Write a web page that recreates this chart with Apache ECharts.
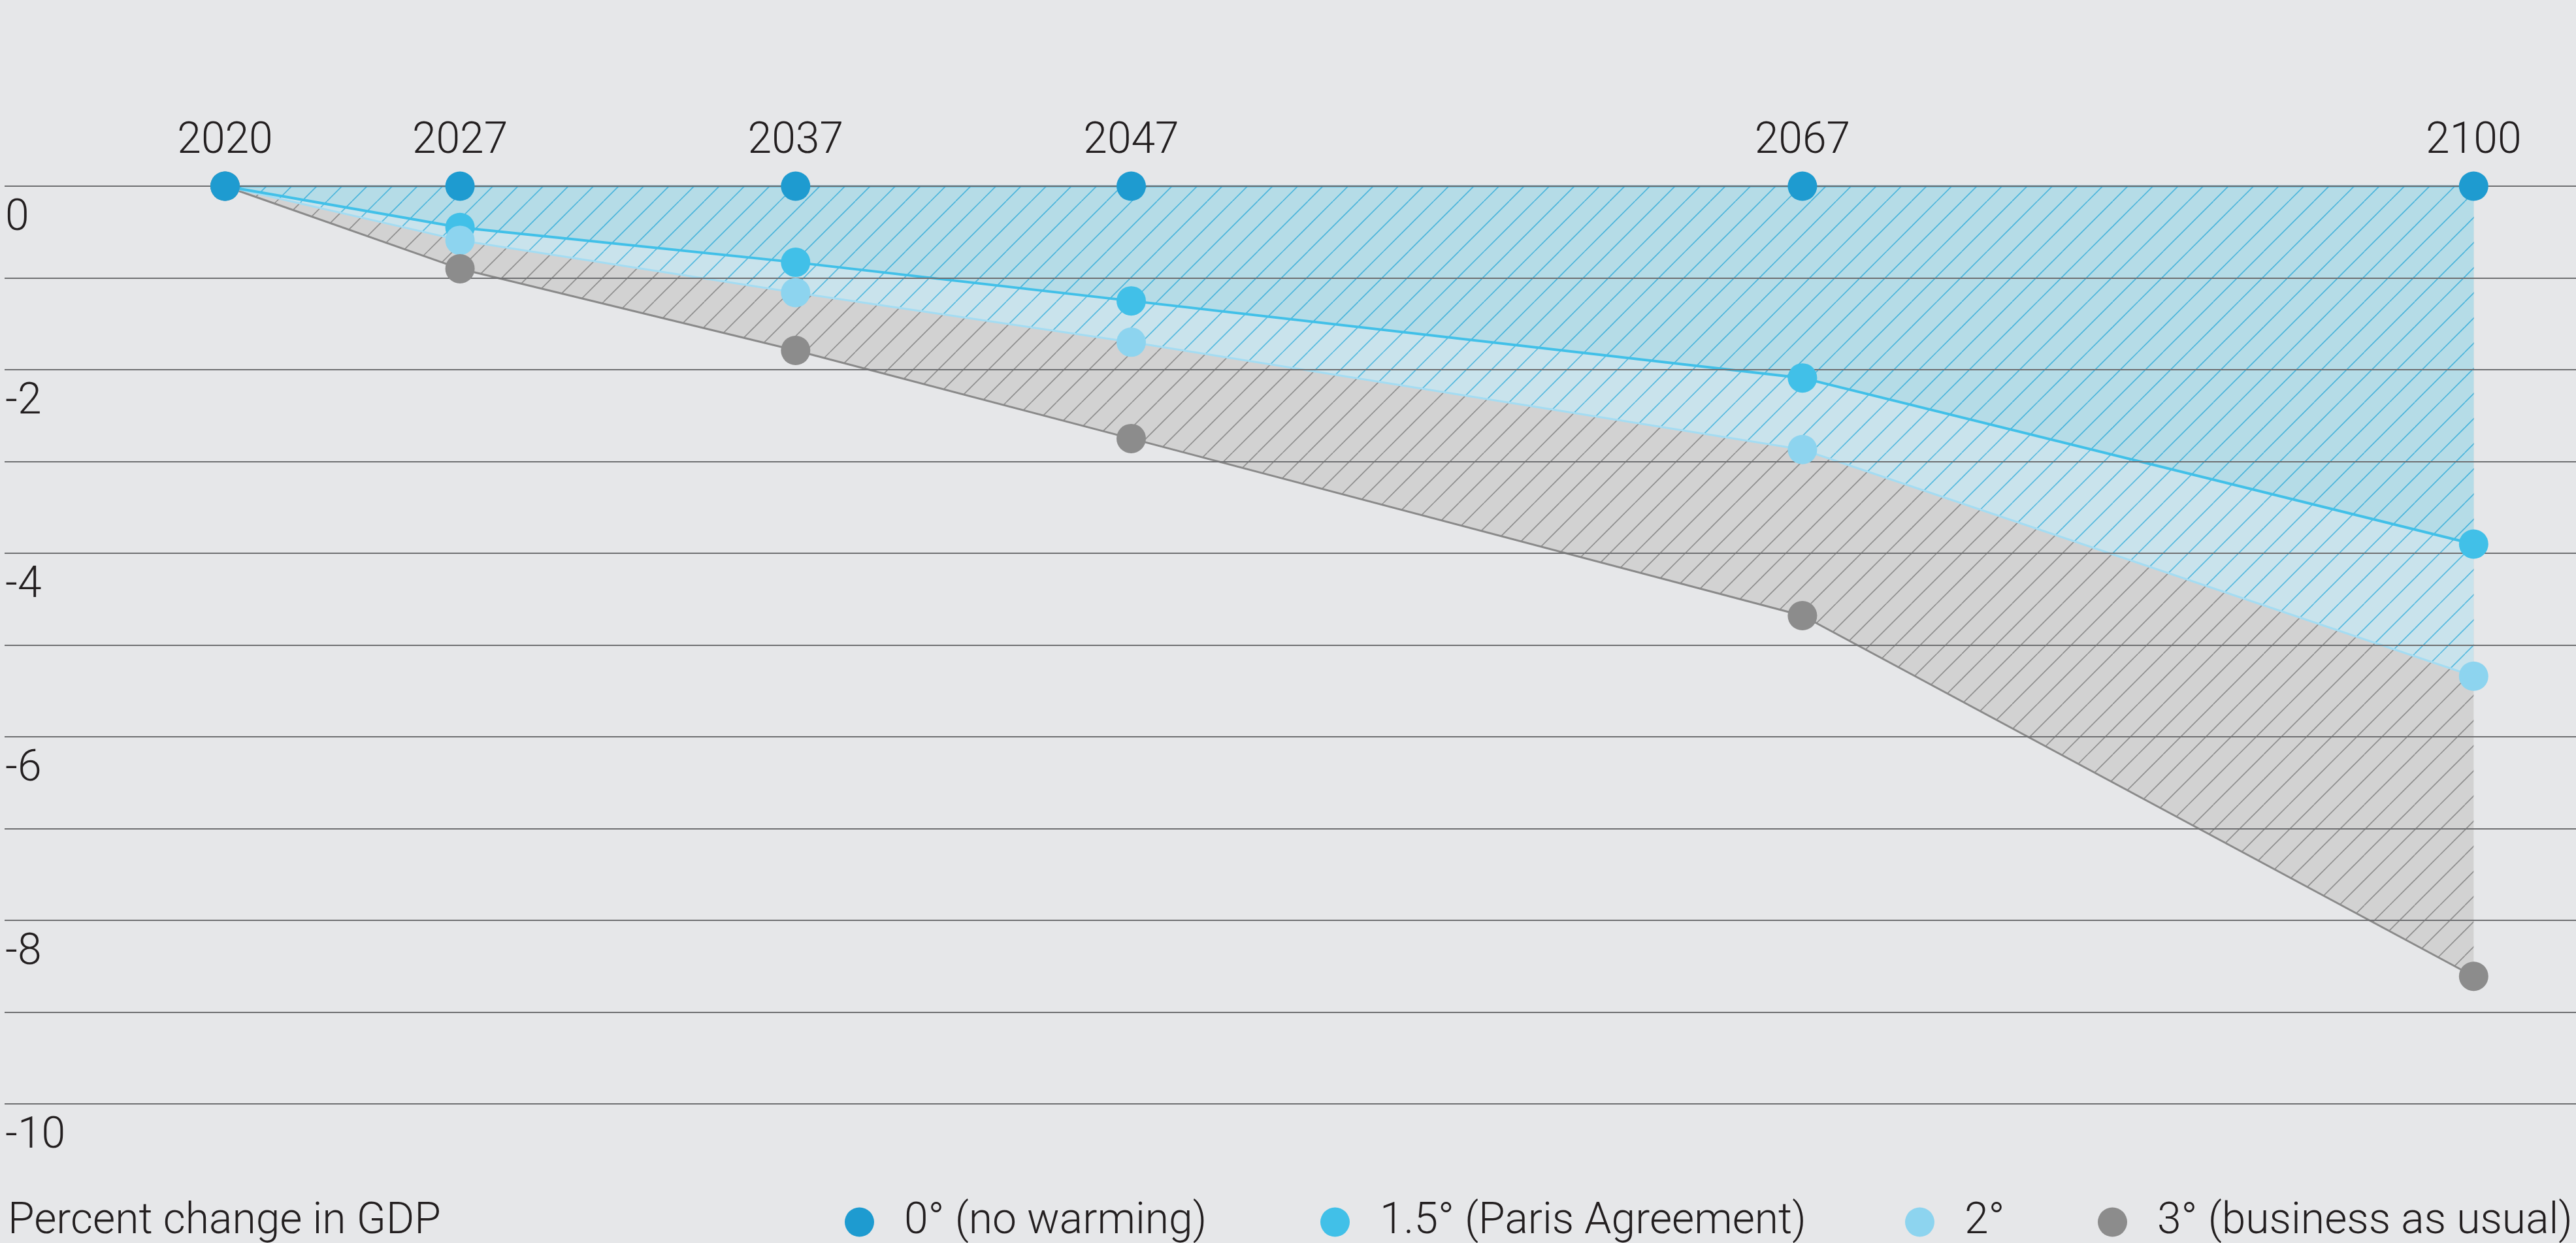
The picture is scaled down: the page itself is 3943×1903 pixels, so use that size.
<!DOCTYPE html>
<html>
<head>
<meta charset="utf-8">
<script src="https://cdn.jsdelivr.net/npm/echarts@6/dist/echarts.min.js"></script>
<style>
  html, body { margin: 0; padding: 0; background: #e6e7e9; }
  #chart { width: 3943px; height: 1903px; }
</style>
</head>
<body>
<div id="chart"></div>
<script>
// ---- data ----
const years = ['2020', '2027', '2037', '2047', '2067', '2100'];
// horizontal slot of each year on the original (non-linear) time axis
const yearSlots = [0, 7, 17, 27, 47, 67];
const seriesNames = ['0° (no warming)', '1.5° (Paris Agreement)', '2°', '3° (business as usual)'];
const noWarming = [0, 0, 0, 0, 0, 0];
const paris15 = [0, -0.45, -0.83, -1.25, -2.09, -3.9];
const warming2 = [0, -0.59, -1.16, -1.7, -2.87, -5.34];
const warming3 = [0, -0.9, -1.79, -2.75, -4.68, -8.61];
const yTickLabels = ['0', '-2', '-4', '-6', '-8', '-10'];
const yAxisTitle = 'Percent change in GDP';

// ---- style ----
const FONT = 'Roboto';
const TXT = '#231f20';
const dotColors = ['#1e9bd0', '#41c0e8', '#8dd4ef', '#8c8c8c'];

function hatch(bg, line) {
  const s = 77;
  const c = document.createElement('canvas');
  c.width = s; c.height = s;
  const g = c.getContext('2d');
  g.fillStyle = bg; g.fillRect(0, 0, s, s);
  g.strokeStyle = line; g.lineWidth = 1.6;
  [0, 38.5, 77, 115.5, 154].forEach(k => {
    g.beginPath(); g.moveTo(k, 0); g.lineTo(k - s, s); g.stroke();
  });
  return { image: c, repeat: 'repeat' };
}

const pair = arr => arr.map((v, i) => [yearSlots[i], v]);

const areaSeries = [
  { name: seriesNames[3], vals: warming3, fill: hatch('#d2d2d2', '#8e8e8e'), line: '#8a8a8a', w: 3 },
  { name: seriesNames[2], vals: warming2, fill: hatch('#c9e3ec', '#55b9de'), line: '#a4dcf2', w: 3 },
  { name: seriesNames[1], vals: paris15, fill: hatch('#b5dce7', '#4ab4db'), line: '#41c0e8', w: 4 },
  { name: seriesNames[0], vals: noWarming, fill: null, line: '#1e9bd0', w: 3 }
].map(s => ({
  type: 'line', name: s.name, z: 1,
  data: pair(s.vals), showSymbol: false, symbol: 'none',
  lineStyle: { color: s.line, width: s.w },
  itemStyle: { color: s.line },
  areaStyle: s.fill ? { color: s.fill, opacity: 1 } : undefined,
  silent: true, animation: false
}));

const dotOrder = [1, 2, 3, 0];
const dotData = [noWarming, paris15, warming2, warming3];
const dotSeries = dotOrder.map(i => ({
  type: 'scatter', name: seriesNames[i], z: 3,
  data: pair(dotData[i]), symbolSize: 45,
  itemStyle: { color: dotColors[i], opacity: 1 },
  silent: true, animation: false
}));

const legendLeft = [1293, 2021, 2916, 3211];
const legends = seriesNames.map((n, i) => ({
  data: [{ name: n, icon: 'circle', itemStyle: { color: dotColors[i] } }],
  left: legendLeft[i], top: 1838, padding: 0,
  itemWidth: 45, itemHeight: 45, selectedMode: false,
  textStyle: { fontFamily: FONT, fontWeight: 300, fontSize: 66, color: TXT, padding: [0, 0, 0, 41] }
}));

const option = {
  backgroundColor: '#e6e7e9',
  animation: false,
  title: {
    text: yAxisTitle, left: 12, top: 1838, padding: 0,
    textStyle: { fontFamily: FONT, fontWeight: 300, fontSize: 66, color: TXT, lineHeight: 66 }
  },
  legend: legends,
  grid: { left: 7, right: 0, top: 285, bottom: 213, containLabel: false },
  xAxis: {
    type: 'value', position: 'top', min: -6.57, max: 70.05,
    axisLine: { show: false }, axisTick: { show: false }, splitLine: { show: false },
    axisLabel: {
      customValues: yearSlots, margin: 35,
      formatter: v => years[yearSlots.indexOf(v)] || '',
      fontFamily: FONT, fontWeight: 300, fontSize: 66, color: TXT
    }
  },
  yAxis: {
    type: 'value', min: -10, max: 0, interval: 1, z: 2,
    axisLine: { show: false }, axisTick: { show: false },
    splitLine: { show: true, lineStyle: { color: '#6e6f71', width: 2 } },
    axisLabel: {
      inside: true, margin: 1, verticalAlign: 'top', lineHeight: 100,
      formatter: v => (v % 2 === 0 ? yTickLabels[-v / 2] : ''),
      fontFamily: FONT, fontWeight: 300, fontSize: 66, color: TXT
    }
  },
  series: areaSeries.concat(dotSeries)
};

const chart = echarts.init(document.getElementById('chart'), null, { renderer: 'canvas' });
chart.setOption(option);
</script>
</body>
</html>
